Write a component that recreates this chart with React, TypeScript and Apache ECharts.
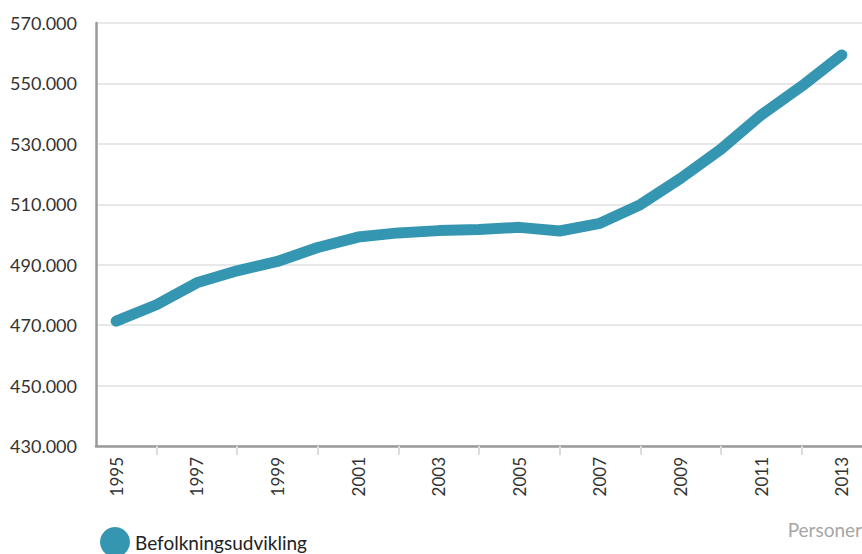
import React, { useEffect, useRef } from "react";
import * as echarts from "echarts";

const years = [
  "1995", "1996", "1997", "1998", "1999", "2000", "2001", "2002", "2003", "2004",
  "2005", "2006", "2007", "2008", "2009", "2010", "2011", "2012", "2013",
];
const population = [
  471300, 476751, 484000, 487969, 491082, 495699, 499148, 500531, 501285, 501664,
  502362, 501158, 503699, 509861, 518574, 528208, 539542, 549050, 559440,
];
const seriesName = "Befolkningsudvikling";
const unitLabel = "Personer";

const FONT = "Lato, 'Open Sans', sans-serif";

function fmt(v: number): string {
  return String(Math.round(v)).replace(/\B(?=(\d{3})+(?!\d))/g, ".");
}

export default function App() {
  const ref = useRef<HTMLDivElement>(null);
  useEffect(() => {
    if (!ref.current) return;
    const chart = echarts.init(ref.current, undefined, { renderer: "svg" });
    chart.setOption({
      animation: false,
      backgroundColor: "#ffffff",
      grid: { left: 96, right: 0, top: 23, bottom: 108, containLabel: false },
      legend: {
        data: [{ name: seriesName, icon: "circle" }],
        left: 95,
        top: 522,
        itemWidth: 30,
        itemHeight: 30,
        textStyle: { fontFamily: FONT, fontSize: 19, lineHeight: 22, color: "#222" },
      },
      graphic: [
        {
          type: "text",
          right: 0,
          top: 520,
          style: { text: unitLabel, fontFamily: FONT, fontSize: 19, fill: "#a6a6a6" },
        },
      ],
      xAxis: {
        type: "category",
        data: years,
        boundaryGap: true,
        axisLine: { show: true, lineStyle: { color: "#9a9a9a", width: 2.5 } },
        axisTick: {
          show: true,
          alignWithLabel: true,
          interval: (i: number) => i % 2 === 1,
          length: 9,
          lineStyle: { color: "#dcdcdc", width: 2 },
        },
        axisLabel: {
          interval: (i: number) => i % 2 === 0,
          rotate: 90,
          margin: 11,
          fontFamily: FONT,
          fontSize: 17,
          color: "#333",
        },
        splitLine: { show: false },
      },
      yAxis: {
        type: "value",
        min: 430000,
        max: 570000,
        interval: 20000,
        axisLine: { show: true, lineStyle: { color: "#9a9a9a", width: 2.5 } },
        axisTick: { show: false },
        axisLabel: {
          margin: 19,
          fontFamily: FONT,
          fontSize: 18,
          color: "#333",
          formatter: (v: number) => fmt(v),
        },
        splitLine: { show: true, lineStyle: { color: "#e8e8e8", width: 2 } },
      },
      series: [
        {
          name: seriesName,
          type: "line",
          data: population,
          showSymbol: false,
          symbol: "none",
          itemStyle: { color: "#3596b1" },
          lineStyle: { color: "#3596b1", width: 11, cap: "round", join: "round" },
        },
      ],
    });
    return () => chart.dispose();
  }, []);
  return (
    <div
      ref={ref}
      style={{ position: "absolute", left: 0, top: 0, width: 862, height: 554 }}
    />
  );
}
